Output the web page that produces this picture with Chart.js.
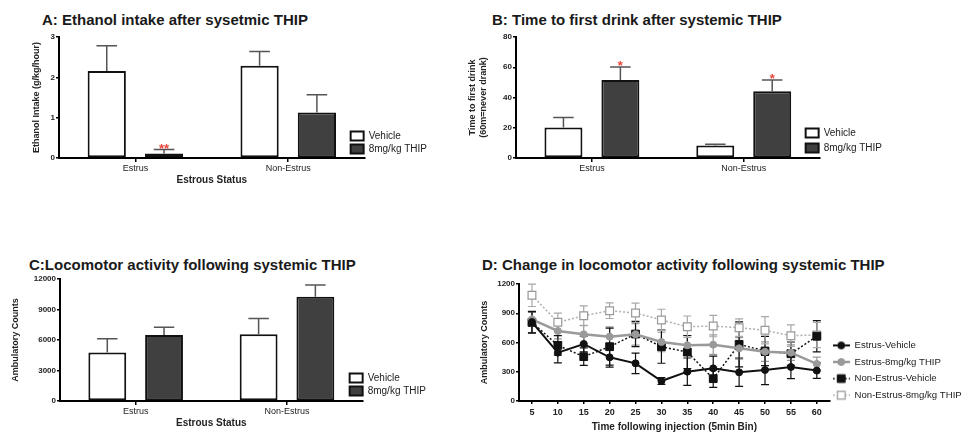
<!DOCTYPE html>
<html>
<head>
<meta charset="utf-8">
<script src="https://cdn.jsdelivr.net/npm/chart.js@4.4.1/dist/chart.umd.min.js"></script>
<style>
  body { margin: 0; width: 965px; height: 437px; background: #fff; position: relative; overflow: hidden; font-family: "Liberation Sans", Arial, sans-serif; }
  .title { position: absolute; font-weight: bold; font-size: 15px; line-height: 15px; color: #1a1a1a; white-space: nowrap; }
  canvas { position: absolute; }
</style>
</head>
<body>
<div class="title" style="left:42px;top:12px">A: Ethanol intake after sysetmic THIP</div>
<div class="title" style="left:492px;top:12px">B: Time to first drink after systemic THIP</div>
<div class="title" style="left:29px;top:257px">C:Locomotor activity following systemic THIP</div>
<div class="title" style="left:482px;top:257px">D: Change in locomotor activity following systemic THIP</div>

<canvas id="chartA" width="454" height="165" style="left:0;top:28px"></canvas>
<canvas id="chartB" width="456" height="165" style="left:455px;top:28px"></canvas>
<canvas id="chartC" width="452" height="162" style="left:0;top:272px"></canvas>
<canvas id="chartD" width="510" height="167" style="left:470px;top:272px"></canvas>

<script>
const statusLabels = ['Estrus', 'Non-Estrus'];
const groupLabels = ['Vehicle', '8mg/kg THIP'];

// A: ethanol intake (g/kg/hour), mean and SEM
const intakeVehicle = [2.16, 2.29];
const intakeVehicleSem = [0.62, 0.35];
const intakeThip = [0.11, 1.13];
const intakeThipSem = [0.10, 0.44];
const intakeThipSig = ['**', ''];

// B: time to first drink (min)
const latencyVehicle = [20.1, 8.2];
const latencyVehicleSem = [6.6, 0.9];
const latencyThip = [51.5, 44.2];
const latencyThipSem = [8.6, 7.3];
const latencyThipSig = ['*', '*'];

// C: total ambulatory counts
const locoVehicle = [4780, 6560];
const locoVehicleSem = [1350, 1550];
const locoThip = [6500, 10250];
const locoThipSem = [750, 1150];

// D: ambulatory counts per 5 min bin
const timeBins = ['5', '10', '15', '20', '25', '30', '35', '40', '45', '50', '55', '60'];
const estrusVehicle = [810, 496, 585, 448, 386, 205, 301, 335, 294, 318, 349, 312];
const estrusVehicleSem = [110, 105, 80, 100, 105, 35, 140, 125, 145, 150, 120, 80];
const estrusThip = [838, 718, 684, 660, 684, 605, 571, 578, 540, 506, 496, 380];
const estrusThipSem = [70, 80, 90, 100, 110, 100, 100, 100, 110, 100, 80, 70];
const nonEstrusVehicle = [807, 571, 455, 557, 687, 557, 502, 229, 581, 513, 485, 664];
const nonEstrusVehicleSem = [110, 100, 90, 190, 130, 170, 170, 90, 230, 150, 120, 160];
const nonEstrusThip = [1084, 807, 875, 926, 903, 831, 762, 769, 752, 725, 670, 677];
const nonEstrusThipSem = [115, 95, 100, 80, 100, 110, 110, 110, 90, 140, 110, 130];

const FONT = '"Liberation Sans", Arial, sans-serif';
const TEXT = '#222';

// whiskers (bars: upper only, lines: both ways) and significance stars
function drawErrors(chart, both) {
  const ctx = chart.ctx;
  const y = chart.scales.y;
  chart.data.datasets.forEach((ds, i) => {
    const meta = chart.getDatasetMeta(i);
    meta.data.forEach((el, j) => {
      const v = ds.data[j], e = ds.sem[j];
      const top = y.getPixelForValue(v + e);
      const bot = both ? y.getPixelForValue(v - e) : el.y;
      const cap = both ? 4 : el.width * 0.27;
      ctx.save();
      ctx.strokeStyle = ds.errorColor;
      ctx.lineWidth = both ? 1.2 : 1.5;
      ctx.beginPath();
      ctx.moveTo(el.x, top); ctx.lineTo(el.x, bot);
      ctx.moveTo(el.x - cap, top); ctx.lineTo(el.x + cap, top);
      if (both) { ctx.moveTo(el.x - cap, bot); ctx.lineTo(el.x + cap, bot); }
      ctx.stroke();
      if (ds.sig && ds.sig[j]) {
        ctx.fillStyle = '#e8443a';
        ctx.font = 'bold 13px ' + FONT;
        ctx.textAlign = 'center';
        ctx.textBaseline = 'alphabetic';
        ctx.fillText(ds.sig[j], el.x, top + 3);
      }
      ctx.restore();
    });
  });
}

const errorBars = {
  id: 'errorBars',
  beforeDatasetsDraw(chart) { if (chart.config.type === 'line') drawErrors(chart, true); },
  afterDatasetsDraw(chart) { if (chart.config.type === 'bar') drawErrors(chart, false); }
};

// nudge the legend box a few pixels after layout (dw widens its clip box)
const legendShift = {
  id: 'legendShift',
  afterLayout(chart, args, opts) {
    const l = chart.legend;
    if (!l) return;
    const dx = opts.dx || 0, dy = opts.dy || 0, dw = opts.dw || 0;
    l.left += dx; l.right += dx + dw; l.width += dw;
    l.top += dy; l.bottom += dy;
  }
};

function barChart(id, s) {
  return new Chart(document.getElementById(id), {
    type: 'bar',
    data: {
      labels: statusLabels,
      datasets: [
        { label: groupLabels[0], data: s.vehicle, sem: s.vehicleSem, errorColor: '#555',
          backgroundColor: '#fff', borderColor: '#111', borderWidth: 2, borderSkipped: false,
          categoryPercentage: 0.75, barPercentage: 0.667 },
        { label: groupLabels[1], data: s.thip, sem: s.thipSem, sig: s.sig, errorColor: '#555',
          backgroundColor: '#404040', borderColor: '#111', borderWidth: 2, borderSkipped: false,
          categoryPercentage: 0.75, barPercentage: 0.667 }
      ]
    },
    options: {
      responsive: false,
      animation: false,
      layout: { padding: s.pad },
      plugins: {
        legend: {
          position: 'right', align: 'end', fullSize: false,
          labels: { boxWidth: 13, boxHeight: 9, padding: s.legendPad, color: TEXT, font: { family: FONT, size: 10 } }
        },
        legendShift: s.shift,
        tooltip: { enabled: false }
      },
      scales: {
        x: {
          grid: { drawOnChartArea: false, offset: false, tickLength: 4, color: '#000', lineWidth: 1.5 },
          border: { color: '#000', width: 2 },
          ticks: { color: TEXT, padding: 1, font: { family: FONT, size: 9 } },
          title: { display: !!s.xTitle, text: s.xTitle, color: TEXT, padding: 0, font: { family: FONT, size: 10, weight: 'bold' } },
          afterFit: sc => { sc.height = s.xHeight; }
        },
        y: {
          min: 0, max: s.yMax,
          grid: { drawOnChartArea: false, tickLength: 3, color: '#000', lineWidth: 1.5 },
          border: { color: '#000', width: 2 },
          ticks: { stepSize: s.yStep, color: TEXT, padding: 1, font: { family: FONT, size: 8, weight: 'bold' }, callback: v => String(v) },
          title: { display: true, text: s.yTitle, color: TEXT, padding: { top: 4, bottom: 0 }, font: { family: FONT, size: 9, weight: 'bold' } },
          afterFit: sc => { sc.width = s.yWidth; }
        }
      }
    },
    plugins: [errorBars, legendShift]
  });
}

barChart('chartA', {
  vehicle: intakeVehicle, vehicleSem: intakeVehicleSem, thip: intakeThip, thipSem: intakeThipSem, sig: intakeThipSig,
  yMax: 3, yStep: 1, yTitle: 'Ethanol Intake (g/kg/hour)', xTitle: 'Estrous Status',
  pad: { top: 9, left: 27, right: 0, bottom: 7 }, yWidth: 32, xHeight: 28, legendPad: 3, shift: { dx: -17, dy: -1 }
});

barChart('chartB', {
  vehicle: latencyVehicle, vehicleSem: latencyVehicleSem, thip: latencyThip, thipSem: latencyThipSem, sig: latencyThipSig,
  yMax: 80, yStep: 20, yTitle: ['Time to first drink', '(60m=never drank)'], xTitle: '',
  pad: { top: 9, left: 8, right: 0, bottom: 15 }, yWidth: 53, xHeight: 20, legendPad: 5, shift: { dx: -19, dy: 0 }
});

barChart('chartC', {
  vehicle: locoVehicle, vehicleSem: locoVehicleSem, thip: locoThip, thipSem: locoThipSem, sig: null,
  yMax: 12000, yStep: 3000, yTitle: 'Ambulatory Counts', xTitle: 'Estrous Status',
  pad: { top: 7, left: 6, right: 0, bottom: 5 }, yWidth: 54, xHeight: 28, legendPad: 3, shift: { dx: -16, dy: -2 }
});

// legend sample: short line with the series marker in the middle
function legendIcon(ds) {
  const c = document.createElement('canvas');
  c.width = 17; c.height = 12;
  const g = c.getContext('2d');
  g.strokeStyle = ds.borderColor;
  g.lineWidth = ds.borderWidth;
  g.setLineDash(ds.borderDash || []);
  g.beginPath(); g.moveTo(0, 6); g.lineTo(17, 6); g.stroke();
  g.setLineDash([]);
  g.fillStyle = ds.pointBackgroundColor;
  g.strokeStyle = ds.pointBorderColor;
  g.lineWidth = ds.pointBorderWidth || 1;
  g.beginPath();
  if (ds.pointStyle === 'rect') {
    const h = ds.pointRadius * Math.SQRT1_2;
    g.rect(8.5 - h, 6 - h, 2 * h, 2 * h);
  } else {
    g.arc(8.5, 6, ds.pointRadius, 0, Math.PI * 2);
  }
  g.fill(); g.stroke();
  return c;
}

new Chart(document.getElementById('chartD'), {
  type: 'line',
  data: {
    labels: timeBins,
    datasets: [
      { label: 'Estrus-Vehicle', data: estrusVehicle, sem: estrusVehicleSem, errorColor: '#111',
        borderColor: '#111', borderWidth: 2, pointStyle: 'circle', pointRadius: 3.5,
        pointBackgroundColor: '#111', pointBorderColor: '#111', pointBorderWidth: 1 },
      { label: 'Estrus-8mg/kg THIP', data: estrusThip, sem: estrusThipSem, errorColor: '#9a9a9a',
        borderColor: '#9a9a9a', borderWidth: 2.5, pointStyle: 'circle', pointRadius: 3.5,
        pointBackgroundColor: '#9a9a9a', pointBorderColor: '#9a9a9a', pointBorderWidth: 1 },
      { label: 'Non-Estrus-Vehicle', data: nonEstrusVehicle, sem: nonEstrusVehicleSem, errorColor: '#111',
        borderColor: '#111', borderWidth: 1.5, borderDash: [2, 2], pointStyle: 'rect', pointRadius: 5.5,
        pointBackgroundColor: '#111', pointBorderColor: '#111', pointBorderWidth: 1 },
      { label: 'Non-Estrus-8mg/kg THIP', data: nonEstrusThip, sem: nonEstrusThipSem, errorColor: '#a8a8a8',
        borderColor: '#b0b0b0', borderWidth: 1.5, borderDash: [2, 2], pointStyle: 'rect', pointRadius: 5.5,
        pointBackgroundColor: '#fff', pointBorderColor: '#999', pointBorderWidth: 1.2 }
    ]
  },
  options: {
    responsive: false,
    animation: false,
    // right padding keeps the plot at its reference width; the legend text runs into it
    layout: { padding: { top: 12, left: 5, right: 32, bottom: 6 } },
    plugins: {
      legend: {
        position: 'right', align: 'end', fullSize: false,
        labels: {
          usePointStyle: true, pointStyleWidth: 17, padding: 7, color: TEXT,
          font: { family: FONT, size: 9.6 },
          generateLabels(chart) {
            const items = Chart.defaults.plugins.legend.labels.generateLabels(chart);
            items.forEach((it, i) => { it.pointStyle = legendIcon(chart.data.datasets[i]); });
            return items;
          }
        }
      },
      legendShift: { dx: -4, dy: 6, dw: 40 },
      tooltip: { enabled: false }
    },
    scales: {
      x: {
        offset: true,
        grid: { drawOnChartArea: false, offset: false, tickLength: 3, color: '#000', lineWidth: 1.5 },
        border: { color: '#000', width: 2 },
        ticks: { color: TEXT, padding: 3, font: { family: FONT, size: 9, weight: 'bold' } },
        title: { display: true, text: 'Time following injection (5min Bin)', color: TEXT, padding: 0, font: { family: FONT, size: 10, weight: 'bold' } },
        afterFit: sc => { sc.height = 32; }
      },
      y: {
        min: 0, max: 1200,
        grid: { drawOnChartArea: false, tickLength: 3, color: '#000', lineWidth: 1.5 },
        border: { color: '#000', width: 2 },
        ticks: { stepSize: 300, color: TEXT, padding: 1, font: { family: FONT, size: 8, weight: 'bold' }, callback: v => String(v) },
        title: { display: true, text: 'Ambulatory Counts', color: TEXT, padding: { top: 4, bottom: 0 }, font: { family: FONT, size: 9, weight: 'bold' } },
        afterFit: sc => { sc.width = 44; }
      }
    }
  },
  plugins: [errorBars, legendShift]
});
</script>
</body>
</html>
